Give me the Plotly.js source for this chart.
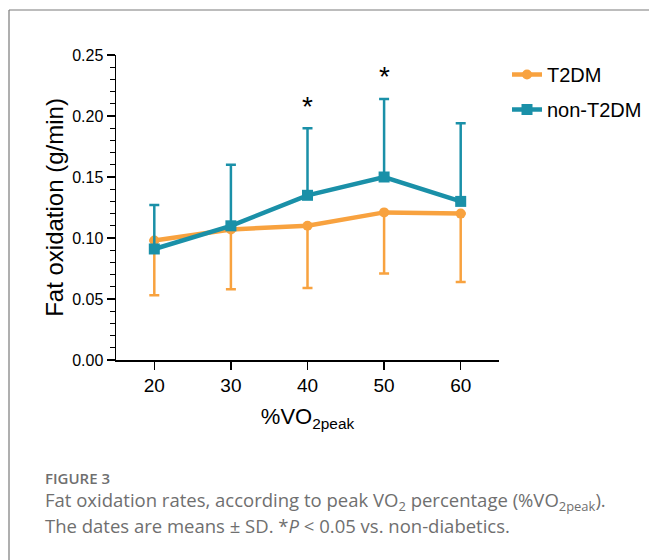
<!DOCTYPE html>
<html>
<head>
<meta charset="utf-8">
<script src="https://cdn.plot.ly/plotly-3.0.1.min.js"></script>
<style>
  html, body { margin: 0; padding: 0; background: #fff; }
  #chart { width: 649px; height: 560px; }
</style>
</head>
<body>
<div id="chart"></div>
<script>
// ---- data ----
const intensity = [20, 30, 40, 50, 60];
const t2dmMean = [0.098, 0.107, 0.110, 0.121, 0.120];
const t2dmSD = [0.045, 0.049, 0.051, 0.050, 0.056];
const nonMean = [0.091, 0.110, 0.135, 0.150, 0.130];
const nonSD = [0.036, 0.050, 0.055, 0.064, 0.064];
const sigPoints = [40, 50];
const xTicks = [20, 30, 40, 50, 60];

const W = 649, H = 560;
const M = { l: 116, r: 150, t: 55, b: 200, autoexpand: false };
const pw = W - M.l - M.r, ph = H - M.t - M.b;
const px2x = p => (p - M.l) / pw;
const py2y = p => (H - M.b - p) / ph;

const orange = '#F8A23F';
const teal = '#1A90A8';
const capColor = '#6f6f6f';
const zeros = intensity.map(() => 0);

const traces = [
  {
    x: intensity, y: t2dmMean, name: 'T2DM', type: 'scatter', mode: 'lines+markers',
    legendgroup: 'a',
    line: { color: orange, width: 4.5 },
    marker: { color: orange, symbol: 'circle', size: 10 },
    error_y: { type: 'data', symmetric: false, array: zeros, arrayminus: t2dmSD,
      color: orange, thickness: 2.5, width: 5 }
  },
  {
    x: intensity, y: nonMean, name: 'non-T2DM', type: 'scatter', mode: 'lines+markers',
    legendgroup: 'b',
    line: { color: teal, width: 4.5 },
    marker: { color: teal, symbol: 'square', size: 11 },
    error_y: { type: 'data', symmetric: false, array: nonSD, arrayminus: zeros,
      color: teal, thickness: 2.5, width: 5 }
  }
];

const annotations = sigPoints.map(v => {
  const i = intensity.indexOf(v);
  return { x: v, y: nonMean[i] + nonSD[i], xref: 'x', yref: 'y', text: '*', showarrow: false,
    yanchor: 'middle', yshift: 22, font: { family: 'Liberation Sans, Arial', size: 28, color: '#000' } };
});

annotations.push(
  { xref: 'paper', yref: 'paper', x: px2x(43), y: py2y(478), xanchor: 'left', yanchor: 'middle',
    text: 'FIGURE 3', showarrow: false,
    font: { family: 'Open Sans', size: 15, color: capColor, weight: 600 } },
  { xref: 'paper', yref: 'paper', x: px2x(43), y: py2y(501), xanchor: 'left', yanchor: 'middle',
    text: 'Fat oxidation rates, according to peak VO<sub>2</sub> percentage (%VO<sub>2peak</sub>).',
    showarrow: false, font: { family: 'Open Sans', size: 18.5, color: capColor } },
  { xref: 'paper', yref: 'paper', x: px2x(43), y: py2y(525), xanchor: 'left', yanchor: 'middle',
    text: 'The dates are means ± SD. *<i>P</i> < 0.05 vs. non-diabetics.',
    showarrow: false, font: { family: 'Open Sans', size: 18.5, color: capColor } }
);

const shapes = [
  { type: 'line', xref: 'paper', yref: 'paper', x0: px2x(9), y0: py2y(10), x1: px2x(660), y1: py2y(10),
    line: { color: '#7a7a7a', width: 1.2 } },
  { type: 'line', xref: 'paper', yref: 'paper', x0: px2x(9), y0: py2y(10), x1: px2x(9), y1: py2y(570),
    line: { color: '#7a7a7a', width: 1.2 } }
];

const layout = {
  width: W, height: H,
  margin: M,
  paper_bgcolor: '#fff', plot_bgcolor: '#fff',
  font: { family: 'Liberation Sans, Arial', color: '#000' },
  showlegend: true,
  legend: { x: px2x(507), y: py2y(55), xanchor: 'left', yanchor: 'top',
    font: { family: 'Liberation Sans, Arial', size: 20, color: '#000' },
    traceorder: 'grouped', tracegroupgap: 6, itemwidth: 30, bgcolor: 'rgba(0,0,0,0)' },
  xaxis: {
    range: [15, 65], tickvals: xTicks, ticktext: xTicks.map(String),
    ticks: 'outside', ticklen: 8, tickwidth: 1.5, tickcolor: '#000',
    showline: true, linecolor: '#000', linewidth: 1.5, showgrid: false, zeroline: false,
    tickfont: { size: 19 },
    title: { text: '%VO<sub>2peak</sub>', font: { size: 22 }, standoff: 13 }
  },
  yaxis: {
    range: [0, 0.25], dtick: 0.05, tick0: 0, tickformat: '.2f',
    ticks: 'outside', ticklen: 8, tickwidth: 1.5, tickcolor: '#000',
    minor: { dtick: 0.01, ticks: 'outside', ticklen: 5, tickwidth: 1.2, tickcolor: '#000', showgrid: false },
    showline: true, linecolor: '#000', linewidth: 1.5, showgrid: false, zeroline: false,
    tickfont: { size: 16 },
    title: { text: 'Fat oxidation (g/min)', font: { size: 24 }, standoff: 2 }
  },
  annotations: annotations,
  shapes: shapes
};

Plotly.newPlot('chart', traces, layout, { displayModeBar: false, staticPlot: true });
</script>
</body>
</html>
